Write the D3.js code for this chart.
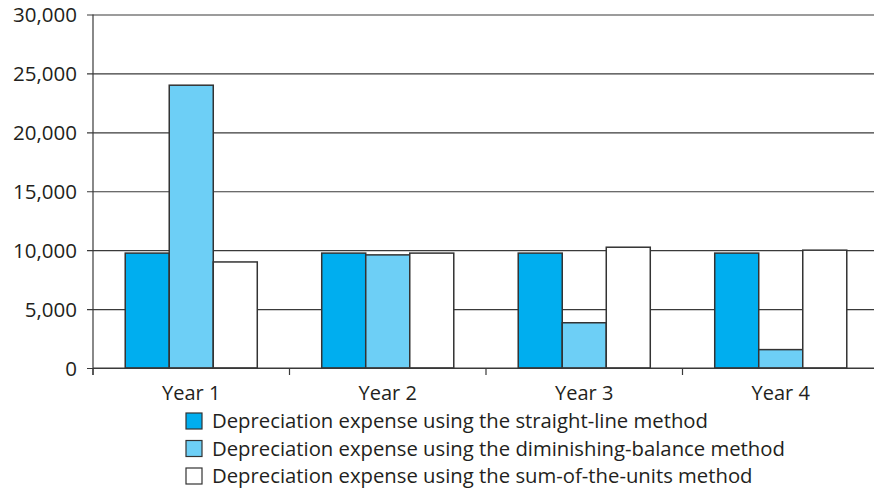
<!DOCTYPE html>
<html>
<head>
<meta charset="utf-8">
<script src="https://cdn.jsdelivr.net/npm/d3@7"></script>
<style>
  body { margin: 0; background: #fff; }
  svg text { font-family: "Open Sans", sans-serif; fill: #231f20; }
</style>
</head>
<body>
<svg id="chart"></svg>
<script>
var years = ['Year 1', 'Year 2', 'Year 3', 'Year 4'];
var seriesNames = [
    'Depreciation expense using the straight-line method',
    'Depreciation expense using the diminishing-balance method',
    'Depreciation expense using the sum-of-the-units method'
];
var straightLine = [9750, 9750, 9750, 9750];
var diminishing = [24000, 9600, 3840, 1560];
var sumOfUnits = [9000, 9750, 10250, 10000];
var yTicks = [0, 5000, 10000, 15000, 20000, 25000, 30000];
var colors = ['#00aeef', '#6dcff6', '#ffffff'];

var width = 874;
var height = 489;
var plotLeft = 93, plotRight = 879, plotTop = 14.5, plotBottom = 368;

var svg = d3.select('#chart')
    .attr('width', width)
    .attr('height', height);

var x = d3.scaleBand()
    .domain(years)
    .range([plotLeft, plotRight])
    .paddingInner(0)
    .paddingOuter(0);

var xInner = d3.scaleBand()
    .domain([0, 1, 2])
    .range([0, x.bandwidth() * 0.672]);

var y = d3.scaleLinear()
    .domain([0, 30000])
    .range([plotBottom, plotTop]);

var fmt = d3.format(',');

// gridlines + y labels
var yAxis = d3.axisLeft(y)
    .tickValues(yTicks)
    .tickSize(6)
    .tickFormat(fmt);

var gy = svg.append('g')
    .attr('transform', 'translate(' + plotLeft + ',0)')
    .call(yAxis);
gy.select('.domain').remove();
gy.selectAll('.tick line')
    .attr('x1', -6)
    .attr('x2', width - plotLeft)
    .attr('stroke', '#3a3a3a')
    .attr('stroke-width', 1.2);
gy.selectAll('.tick text')
    .attr('x', -16)
    .attr('dy', '0.35em')
    .attr('font-family', null)
    .attr('font-size', null)
    .attr('fill', null)
    .style('font-size', '20.5px');

// x axis ticks at category boundaries
var boundaries = years.map(function(d) { return x(d); }).concat([plotRight]);
svg.selectAll('line.xtick')
    .data(boundaries)
    .enter()
    .append('line')
    .attr('class', 'xtick')
    .attr('x1', function(d) { return d; })
    .attr('x2', function(d) { return d; })
    .attr('y1', plotBottom)
    .attr('y2', plotBottom + 7)
    .attr('stroke', '#3a3a3a')
    .attr('stroke-width', 1.2);

svg.append('line')
    .attr('x1', plotLeft).attr('x2', plotLeft)
    .attr('y1', plotTop).attr('y2', plotBottom + 7)
    .attr('stroke', '#3a3a3a')
    .attr('stroke-width', 1.2);

svg.selectAll('text.xlabel')
    .data(years)
    .enter()
    .append('text')
    .attr('class', 'xlabel')
    .attr('x', function(d) { return x(d) + x.bandwidth() / 2; })
    .attr('y', 400)
    .attr('text-anchor', 'middle')
    .style('font-size', '20px')
    .text(function(d) { return d; });

// bars
var series = [straightLine, diminishing, sumOfUnits];
var bars = [];
years.forEach(function(yr, i) {
    series.forEach(function(s, j) {
        bars.push({year: yr, idx: j, value: s[i]});
    });
});

var groupOffset = (x.bandwidth() - xInner.range()[1]) / 2;

svg.selectAll('rect.bar')
    .data(bars)
    .enter()
    .append('rect')
    .attr('class', 'bar')
    .attr('x', function(d) { return x(d.year) + groupOffset + xInner(d.idx); })
    .attr('y', function(d) { return y(d.value); })
    .attr('width', xInner.bandwidth())
    .attr('height', function(d) { return y(0) - y(d.value); })
    .attr('fill', function(d) { return colors[d.idx]; })
    .attr('stroke', '#333')
    .attr('stroke-width', 1.5);

// baseline on top
svg.append('line')
    .attr('x1', plotLeft).attr('x2', width)
    .attr('y1', plotBottom).attr('y2', plotBottom)
    .attr('stroke', '#3a3a3a')
    .attr('stroke-width', 1.2);

// legend
var legend = svg.selectAll('g.legend')
    .data(seriesNames)
    .enter()
    .append('g')
    .attr('class', 'legend')
    .attr('transform', function(d, i) { return 'translate(186,' + (413 + i * 27.5) + ')'; });

legend.append('rect')
    .attr('width', 16)
    .attr('height', 16)
    .attr('fill', function(d, i) { return colors[i]; })
    .attr('stroke', '#333')
    .attr('stroke-width', 1.2);

legend.append('text')
    .attr('x', 26)
    .attr('y', 8)
    .attr('dy', '0.35em')
    .style('font-size', '20.3px')
    .text(function(d) { return d; });
</script>
</body>
</html>
